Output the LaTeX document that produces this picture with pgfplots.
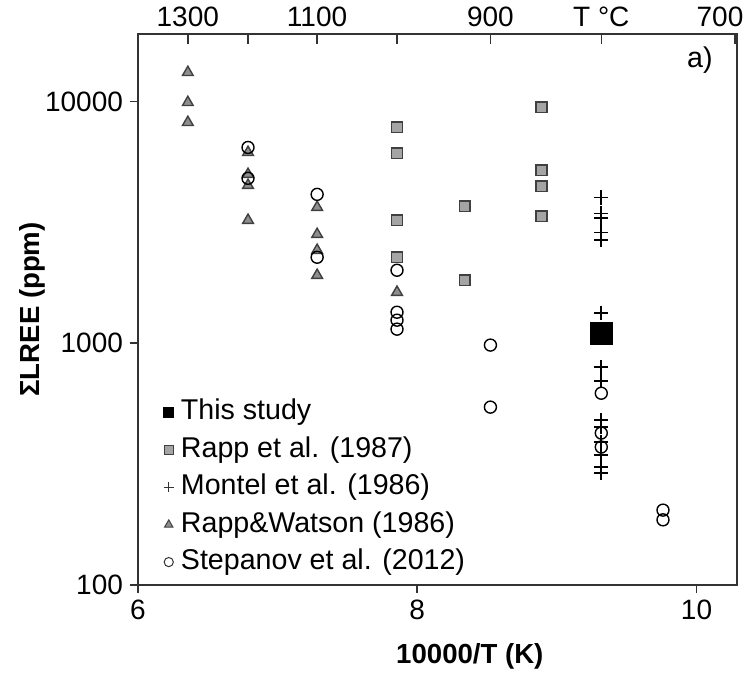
\documentclass[border=0pt]{standalone}
\usepackage{fontspec}
\setmainfont{Liberation Sans}
\usepackage{pgfplots}
\pgfplotsset{compat=1.18}
\definecolor{sqfill}{HTML}{A4A4A4}
\definecolor{trifill}{HTML}{8E8E8E}
\definecolor{edge}{HTML}{404040}
\begin{document}
\begin{tikzpicture}
\begin{axis}[
  scale only axis, width=299.5pt, height=275.5pt,
  xmin=6, xmax=10.29, ymode=log, ymin=100, ymax=19000,
  xtick={6,8,10}, xticklabels={6,8,10},
  ytick={100,1000,10000}, yticklabels={100,1000,10000},
  yminorticks=false, xminorticks=false,
  tick pos=left, tick align=outside, major tick length=4pt,
  axis line style={line width=0.8pt, black!80},
  tick style={line width=0.8pt, black!80},
  ticklabel style={font=\fontsize{14}{16}\selectfont},
  /pgf/number format/assume math mode=true,
  xlabel={\textbf{10000/T (K)}},
  xlabel style={at={(ticklabel cs:0.554)}, anchor=north, font=\fontsize{13.8}{16}\selectfont, yshift=-5pt},
  ylabel={\textbf{ΣLREE (ppm)}},
  ylabel style={font=\fontsize{13.8}{16}\selectfont, yshift=-7pt},
  legend cell align=left,
  legend image code/.code={\draw[#1] plot coordinates {(0pt,0pt)};},
  legend style={draw=none, fill=none, at={(0.032,0.351)}, anchor=north west,
    font=\fontsize{14.3}{17}\selectfont, row sep=2.2pt,
    nodes={inner sep=1pt, text height=11pt, text depth=3.5pt},
    /tikz/every odd column/.append style={column sep=2.5pt}},
]
% Rapp et al. (1987)
\addplot[forget plot, only marks, mark=square*, mark size=2.7pt, mark options={fill=sqfill, draw=edge, line width=0.7pt}] coordinates {
 (7.855,7810) (7.855,6100) (7.855,3224) (7.855,2267)
 (8.34,3683) (8.34,1821)
 (8.89,9445) (8.89,5188) (8.89,4453) (8.89,3348)
};
% Rapp & Watson (1986)
\addplot[forget plot, only marks, mark=triangle*, mark size=3.1pt, mark options={fill=trifill, draw=edge, line width=0.7pt}] coordinates {
 (6.357,13180) (6.357,9900) (6.357,8190)
 (6.788,6155) (6.788,4995) (6.788,4498) (6.788,3224)
 (7.283,3648) (7.283,2820) (7.283,2423) (7.283,1910)
 (7.855,1625)
};
% Montel et al. (1986)
\addplot[forget plot, only marks, mark=+, mark size=3.6pt, mark options={draw=black, line width=0.8pt}] coordinates {
 (9.318,4010) (9.318,3444) (9.318,3286) (9.318,2874) (9.318,2665)
 (9.318,1330) (9.318,796) (9.318,697) (9.318,481) (9.318,450)
 (9.318,390) (9.318,344) (9.318,307) (9.318,290)
};
% Stepanov et al. (2012)
\addplot[forget plot, only marks, mark=o, mark size=3pt, mark options={draw=black, line width=0.7pt}] coordinates {
 (6.788,6450) (6.788,4807)
 (7.283,4126) (7.283,2267)
 (7.855,2003) (7.855,1343) (7.855,1245) (7.855,1143)
 (8.524,982) (8.524,544)
 (9.318,621) (9.318,425) (9.318,372)
 (9.76,204) (9.76,186)
};
% This study
\addplot[forget plot, only marks, mark=square*, mark size=5.5pt, mark options={fill=black, draw=black}] coordinates {
 (9.318,1100)
};
\addlegendimage{only marks, mark=square*, mark size=2.5pt, mark options={fill=black, draw=black}}
\addlegendentry{This study}
\addlegendimage{only marks, mark=square*, mark size=2.2pt, mark options={fill=sqfill, draw=edge, line width=0.5pt}}
\addlegendentry{Rapp et al. (1987)}
\addlegendimage{only marks, mark=+, mark size=2.6pt, mark options={draw=black!80, line width=0.5pt}}
\addlegendentry{Montel et al. (1986)}
\addlegendimage{only marks, mark=triangle*, mark size=2.4pt, mark options={fill=trifill, draw=edge, line width=0.5pt}}
\addlegendentry{Rapp\&Watson (1986)}
\addlegendimage{only marks, mark=o, mark size=2.3pt, mark options={draw=black!80, line width=0.5pt}}
\addlegendentry{Stepanov et al. (2012)}
\node[font=\fontsize{14.3}{17}\selectfont] at (rel axis cs:0.938,0.953) {a)};
\coordinate (bl) at (rel axis cs:0,0);
\coordinate (tr) at (rel axis cs:1,1);
\end{axis}
\begin{axis}[
  scale only axis, width=299.5pt, height=275.5pt,
  xmin=6, xmax=10.29, ymin=0, ymax=1,
  axis x line*=top, axis y line=none,
  xtick={6.3568,6.7881,7.2825,7.8545,8.5241,9.3183,10.2759},
  xticklabels={1300,,1100,,900,T °C,{700\rule{15pt}{0pt}}},
  xtick align=inside, major tick length=5pt, xminorticks=false,
  axis line style={line width=0.8pt, black!80},
  tick style={line width=0.8pt, black!80},
  ticklabel style={font=\fontsize{14}{16}\selectfont},
]
\addplot[draw=none, forget plot] coordinates {(7,0.5)};
\end{axis}
\pgfresetboundingbox
\path[use as bounding box] ([xshift=-69pt,yshift=-45pt]bl) rectangle ([xshift=4pt,yshift=17pt]tr);
\end{tikzpicture}
\end{document}
